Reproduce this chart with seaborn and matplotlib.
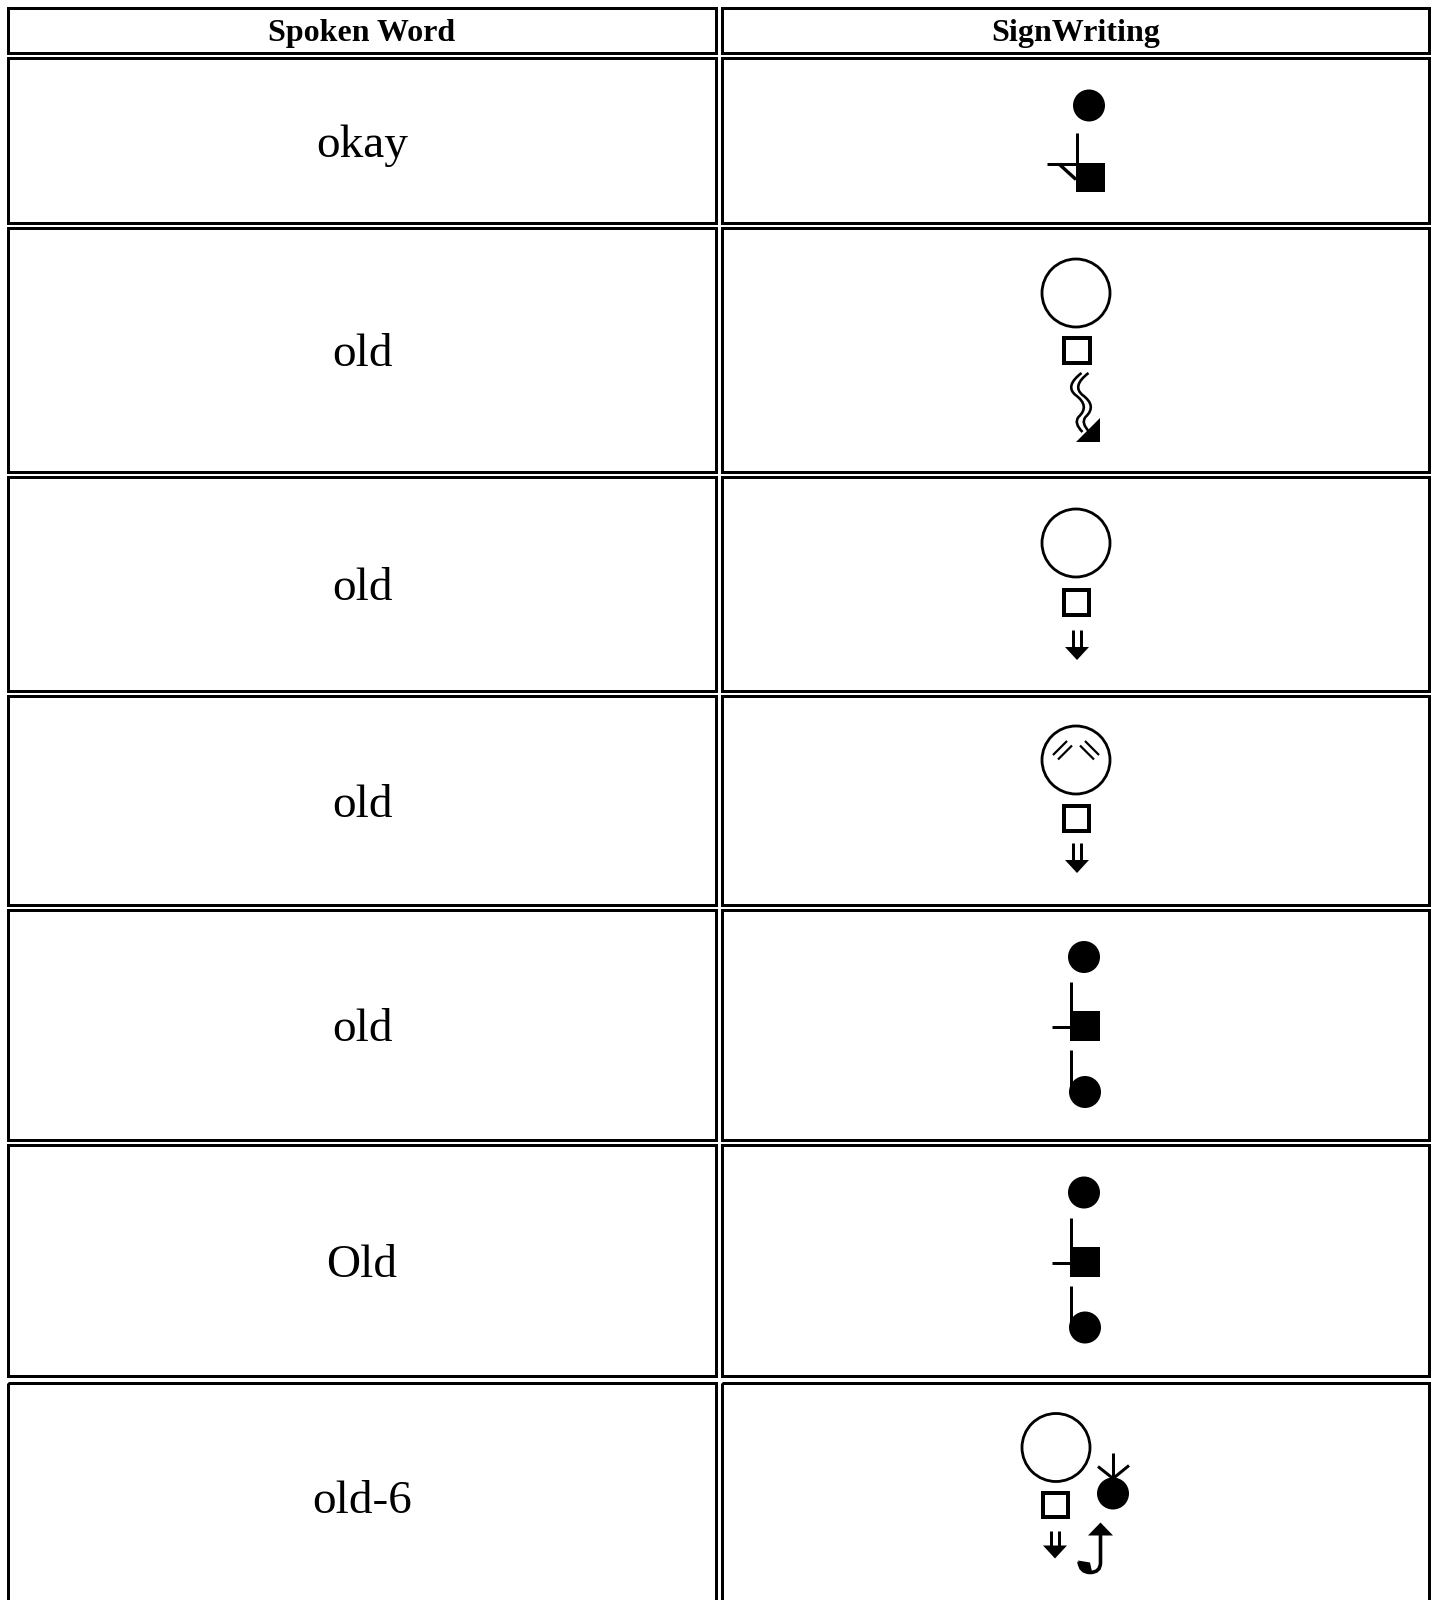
import numpy as np
import seaborn as sns
import matplotlib.pyplot as plt
from matplotlib.patches import Rectangle, Circle, Polygon, PathPatch
from matplotlib.path import Path

# Table content
header_labels = ["Spoken Word", "SignWriting"]
spoken_words = ["okay", "old", "old", "old", "old", "Old", "old-6"]
sign_glyphs = ["okay", "old_wave", "old_down", "old_brows", "old_hand", "old_hand", "old6"]

# Layout (pixel coordinates, y grows downward)
col_edges = [(8, 716), (722, 1429)]
header_rows = (8, 53)
row_edges = [(58, 223), (228, 472), (477, 691), (696, 905),
             (910, 1140), (1145, 1376), (1383, 1610)]

W, H = 1435, 1600
PX = 72 / 100  # px -> points at dpi 100

sns.set_theme(style="white")
plt.rcParams['font.family'] = ['Liberation Serif', 'DejaVu Serif']

fig = plt.figure(figsize=(W / 100, H / 100), dpi=100)
ax = fig.add_axes([0, 0, 1, 1])
ax.set_xlim(0, W)
ax.set_ylim(H, 0)
ax.axis('off')


def cell(x0, x1, y0, y1):
    ax.add_patch(Rectangle((x0, y0), x1 - x0, y1 - y0, fill=False,
                           edgecolor='black', lw=3.0 * PX))


def line(cx, cy, pts, w=3):
    pts = np.array(pts, dtype=float)
    ax.plot(cx + pts[:, 0], cy + pts[:, 1], color='black', lw=w * PX,
            solid_capstyle='butt')


def dot(cx, cy, x, y, r=16):
    ax.add_patch(Circle((cx + x, cy + y), r, color='black', lw=0))


def ring(cx, cy, x, y, r=34):
    ax.add_patch(Circle((cx + x, cy + y), r, fill=False, edgecolor='black', lw=2.8 * PX))


def box(cx, cy, x0, x1, y0, y1, filled=False):
    if filled:
        ax.add_patch(Rectangle((cx + x0, cy + y0), x1 - x0, y1 - y0, color='black', lw=0))
    else:
        ax.add_patch(Rectangle((cx + x0 + 2, cy + y0 + 2), x1 - x0 - 4, y1 - y0 - 4,
                               fill=False, edgecolor='black', lw=4.0 * PX))


def tri(cx, cy, pts):
    pts = np.array(pts, dtype=float) + [cx, cy]
    ax.add_patch(Polygon(pts, closed=True, color='black', lw=0))


def double_down(cx, cy, x, y0, y1):
    # two parallel stems with a single arrowhead
    line(cx, cy, [(x - 4, y0), (x - 4, y1)], 3)
    line(cx, cy, [(x + 4, y0), (x + 4, y1)], 3)
    tri(cx, cy, [(x - 12, y1), (x + 12, y1), (x, y1 + 13)])


def hand(cx, cy):
    dot(cx, cy, 8, -68)
    line(cx, cy, [(-5, -43), (-5, -14)])
    box(cx, cy, -6, 24, -14, 16, filled=True)
    line(cx, cy, [(-24, 2), (-5, 2)])
    line(cx, cy, [(-5, 25), (-5, 66)])
    dot(cx, cy, 9, 67)


def glyph(name, cx, cy):
    if name == "okay":
        dot(cx, cy, 13, -35)
        line(cx, cy, [(1, -8), (1, 24)])
        box(cx, cy, 0, 29, 22, 51, filled=True)
        line(cx, cy, [(-29, 23.5), (1, 23.5)])
        line(cx, cy, [(-17, 23.5), (0, 39)], 3.4)
    elif name == "old_wave":
        ring(cx, cy, 0, -57)
        box(cx, cy, -14, 16, -14, 15)
        for off in (-3.5, 3.5):
            verts = [(9 + off, 23), (-8 + off, 36), (3 + off, 45),
                     (18 + off, 56), (6 + off, 67), (1 + off, 73), (10 + off, 82)]
            codes = [Path.MOVETO, Path.CURVE3, Path.CURVE3, Path.CURVE3, Path.CURVE3,
                     Path.CURVE3, Path.CURVE3]
            ax.add_patch(PathPatch(Path(np.array(verts) + [cx, cy], codes), fill=False,
                                   edgecolor='black', lw=2.6 * PX))
        tri(cx, cy, [(0, 92), (24, 92), (24, 68)])
    elif name == "old_down":
        ring(cx, cy, 0, -41)
        box(cx, cy, -14, 15, 4, 33)
        double_down(cx, cy, 1, 46, 63)
    elif name == "old_brows":
        ring(cx, cy, 0, -40.5)
        for s in (-1, 1):
            line(cx, cy, [(s * 23, -45.5), (s * 9, -59.5)], 2.2)
            line(cx, cy, [(s * 18, -41), (s * 4, -55)], 2.2)
        box(cx, cy, -14, 15, 3.5, 32.5)
        double_down(cx, cy, 1, 42.5, 59.5)
    elif name == "old_hand":
        hand(cx, cy)
    elif name == "old6":
        ring(cx, cy, -20, -49)
        box(cx, cy, -35, -6, -6, 22)
        double_down(cx, cy, -21, 34, 49)
        dot(cx, cy, 37, -3)
        line(cx, cy, [(37, -44), (37, -17)])
        line(cx, cy, [(22, -30), (37, -18), (53, -31)], 3)
        tri(cx, cy, [(12, 39), (37, 39), (24.5, 26)])
        verts = [(24.5, 38), (24.5, 66), (24.5, 76), (14, 76), (4, 76), (3, 65)]
        codes = [Path.MOVETO, Path.LINETO, Path.CURVE3, Path.CURVE3, Path.CURVE3, Path.CURVE3]
        ax.add_patch(PathPatch(Path(np.array(verts) + [cx, cy], codes), fill=False,
                               edgecolor='black', lw=3.6 * PX))
        tri(cx, cy, [(2, 64), (14, 66), (16, 75), (8, 74)])


# header row
for (x0, x1), label in zip(col_edges, header_labels):
    cell(x0, x1, *header_rows)
    ax.text((x0 + x1) / 2, (header_rows[0] + header_rows[1]) / 2 + 3, label,
            ha='center', va='center', fontsize=23, fontweight='bold', color='black')

# body rows
for (y0, y1), word, g in zip(row_edges, spoken_words, sign_glyphs):
    (lx0, lx1), (rx0, rx1) = col_edges
    cell(lx0, lx1, y0, y1)
    cell(rx0, rx1, y0, y1)
    cy = (y0 + y1) / 2
    ax.text((lx0 + lx1) / 2, cy + 5, word, ha='center', va='center',
            fontsize=34, color='black')
    glyph(g, 1076, cy)

fig.savefig('out.png', dpi=100, facecolor='white')
